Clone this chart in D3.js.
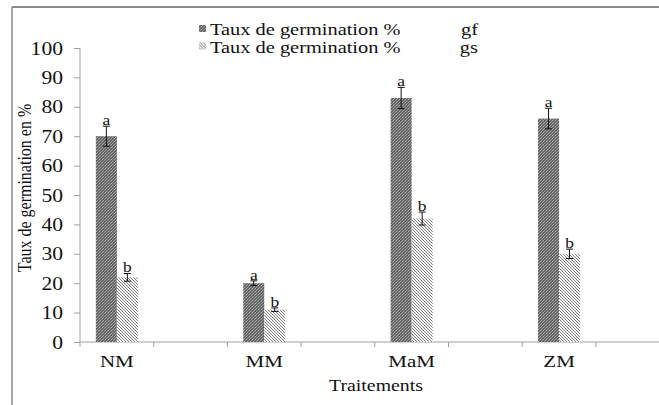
<!DOCTYPE html>
<html>
<head>
<meta charset="utf-8">
<script src="https://cdn.jsdelivr.net/npm/d3@7/dist/d3.min.js"></script>
<style>
  body { margin: 0; background: #fff; }
  text { font-family: "Liberation Serif", "Times New Roman", serif; fill: #111; }
</style>
</head>
<body>
<svg id="chart" width="659" height="405"></svg>
<script>
// categories (blank slots sit between the treatments, as in the original sheet)
var categories = ["NM", "", "MM", " ", "MaM", "  ", "ZM", "   "];
var treatments = ["NM", "MM", "MaM", "ZM"];
var series = ["gf", "gs"];
var gfValues = [70, 20, 83, 76];
var gsValues = [22, 11, 42, 30];
var gfErrors = [3.4, 0.8, 3.6, 3.5];
var gsErrors = [1.3, 0.6, 2.2, 1.6];
var gfLetters = ["a", "a", "a", "a"];
var gsLetters = ["b", "b", "b", "b"];
var yTicks = [0, 10, 20, 30, 40, 50, 60, 70, 80, 90, 100];
var legendLabels = ["Taux de germination %", "Taux de germination %"];

(function() {
  var SX = 1.2; // the picture is stretched sideways

  var svg = d3.select("#chart");
  var left = 80, bottom = 342, plotTop = 48, step = 73.7;

  var defs = svg.append("defs");
  var pf = defs.append("pattern").attr("id", "pat-gf")
    .attr("patternUnits", "userSpaceOnUse").attr("width", 3).attr("height", 3);
  pf.append("rect").attr("width", 3).attr("height", 3).attr("fill", "#666");
  pf.append("rect").attr("x", 0).attr("y", 0).attr("width", 1).attr("height", 1).attr("fill", "#b0b0b0");
  pf.append("rect").attr("x", 2).attr("y", 1).attr("width", 1).attr("height", 1).attr("fill", "#959595");
  pf.append("rect").attr("x", 1).attr("y", 2).attr("width", 1).attr("height", 1).attr("fill", "#a2a2a2");

  var ps = defs.append("pattern").attr("id", "pat-gs")
    .attr("patternUnits", "userSpaceOnUse").attr("width", 3).attr("height", 3);
  ps.append("rect").attr("width", 3).attr("height", 3).attr("fill", "#f4f4f4");
  ps.append("path").attr("d", "M-1,-1 L4,4 M-1,2 L1,4 M2,-1 L4,1")
    .attr("stroke", "#858585").attr("stroke-width", 1);

  var fills = { gf: "url(#pat-gf)", gs: "url(#pat-gs)" };

  // frame
  svg.append("line").attr("x1", 12).attr("x2", 659).attr("y1", 7).attr("y2", 7)
    .attr("stroke", "#8a8a8a").attr("stroke-width", 2);
  svg.append("line").attr("x1", 12).attr("x2", 12).attr("y1", 7).attr("y2", 405)
    .attr("stroke", "#8a8a8a").attr("stroke-width", 1.5);

  var x = d3.scaleBand().domain(categories).range([left, left + step * categories.length]);
  var x1 = d3.scaleBand().domain(series).range([0, x.bandwidth()]).paddingOuter(0.755);
  var y = d3.scaleLinear().domain([0, 100]).range([bottom, plotTop]);

  // y axis
  var yAxis = svg.append("g").attr("transform", "translate(" + left + ",0)")
    .call(d3.axisLeft(y).tickValues(yTicks).tickSize(6).tickPadding(0).tickFormat(d3.format("d")));
  yAxis.select(".domain").attr("stroke", "#a0a0a0").attr("d", "M0," + plotTop + "V" + bottom);
  yAxis.selectAll(".tick line").attr("stroke", "#a0a0a0");
  yAxis.selectAll(".tick text")
    .attr("x", null).attr("dy", null).attr("fill", "#111")
    .attr("text-anchor", "end").attr("font-size", 18).attr("font-family", "Liberation Serif")
    .attr("transform", "translate(-17,6) scale(" + SX + ",1)");

  // x axis
  var xAxis = svg.append("g").attr("transform", "translate(0," + bottom + ")")
    .call(d3.axisBottom(x).tickSize(0).tickFormat(""));
  xAxis.select(".domain").attr("stroke", "#a0a0a0").attr("d", "M" + left + ",0H659");
  var xTicks = d3.range(categories.length + 1).map(function(i) { return left + i * step; });
  xAxis.selectAll(".xt").data(xTicks).enter().append("line")
    .attr("x1", function(d) { return d; }).attr("x2", function(d) { return d; })
    .attr("y1", 0).attr("y2", 5).attr("stroke", "#a0a0a0");

  svg.selectAll(".cat").data(treatments).enter().append("text")
    .attr("text-anchor", "middle").attr("font-size", 17.5)
    .attr("transform", function(d) {
      return "translate(" + (x(d) + x.bandwidth() / 2) + ",367) scale(" + SX + ",1)";
    })
    .text(function(d) { return d; });

  svg.append("text").attr("text-anchor", "middle").attr("font-size", 16.5)
    .attr("transform", "translate(376,391) scale(" + SX + ",1)")
    .text("Traitements");

  svg.append("text").attr("text-anchor", "middle").attr("font-size", 16)
    .attr("transform", "translate(31,188) scale(" + SX + ",1) rotate(-90)")
    .text("Taux de germination en %");

  // bars
  var rows = treatments.map(function(t, i) {
    return [
      { cat: t, s: "gf", v: gfValues[i], e: gfErrors[i], l: gfLetters[i] },
      { cat: t, s: "gs", v: gsValues[i], e: gsErrors[i], l: gsLetters[i] }
    ];
  });
  var flat = [].concat.apply([], rows);

  svg.selectAll(".bar").data(flat).enter().append("rect")
    .attr("x", function(d) { return x(d.cat) + x1(d.s); })
    .attr("width", x1.bandwidth())
    .attr("y", function(d) { return y(d.v); })
    .attr("height", function(d) { return bottom - y(d.v); })
    .attr("fill", function(d) { return fills[d.s]; });

  // error bars
  var eb = svg.selectAll(".err").data(flat).enter().append("g")
    .attr("transform", function(d) { return "translate(" + (x(d.cat) + x1(d.s) + x1.bandwidth() / 2) + ",0)"; });
  eb.append("line").attr("y1", function(d) { return y(d.v + d.e); })
    .attr("y2", function(d) { return y(d.v - d.e); }).attr("stroke", "#111");
  eb.append("line").attr("x1", -3.5).attr("x2", 3.5)
    .attr("y1", function(d) { return y(d.v + d.e); }).attr("y2", function(d) { return y(d.v + d.e); })
    .attr("stroke", "#111");
  eb.append("line").attr("x1", -3.5).attr("x2", 3.5)
    .attr("y1", function(d) { return y(d.v - d.e); }).attr("y2", function(d) { return y(d.v - d.e); })
    .attr("stroke", "#111");
  eb.append("text").attr("text-anchor", "middle").attr("font-size", 14.5).attr("fill", "#111")
    .attr("transform", function(d) { return "translate(0," + (y(d.v + d.e) - 1) + ") scale(" + SX + ",1)"; })
    .text(function(d) { return d.l; });

  // legend
  var leg = svg.selectAll(".leg").data(series).enter().append("g")
    .attr("transform", function(d, i) { return "translate(0," + (35 + i * 17.5) + ")"; });
  leg.append("rect").attr("x", 199).attr("y", -10).attr("width", 7).attr("height", 7)
    .attr("fill", function(d) { return fills[d]; });
  leg.append("text").attr("font-size", 17)
    .attr("transform", "translate(210,0) scale(" + SX + ",1)")
    .text(function(d, i) { return legendLabels[i]; });
  leg.append("text").attr("font-size", 17).attr("text-anchor", "end")
    .attr("transform", "translate(478,0) scale(" + SX + ",1)")
    .text(function(d) { return d; });
})();
</script>
</body>
</html>
